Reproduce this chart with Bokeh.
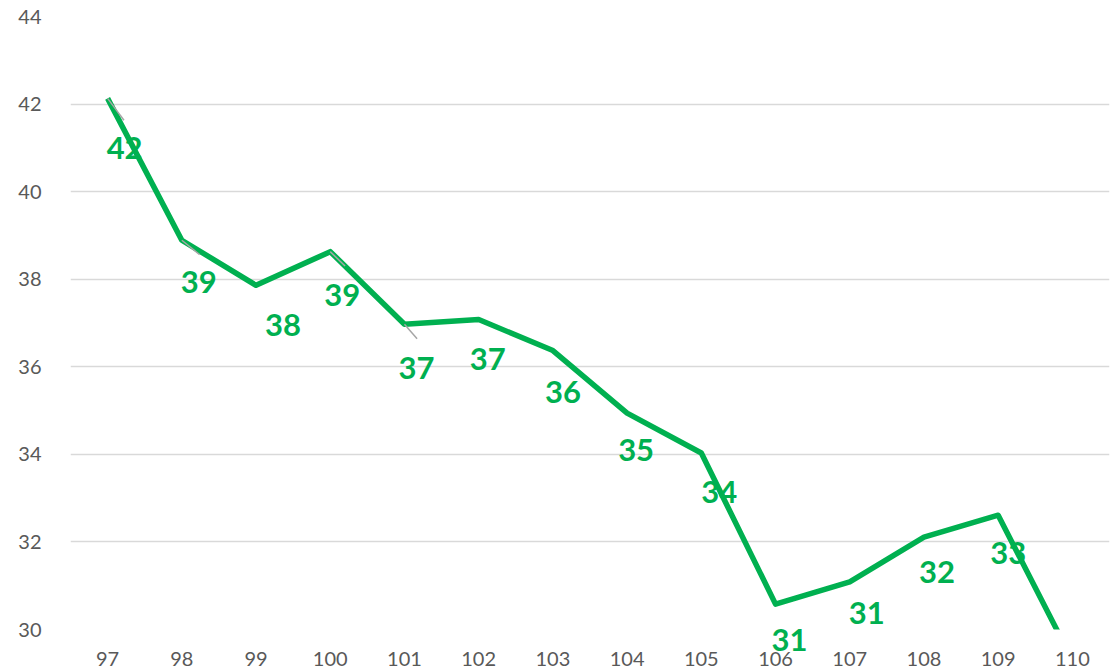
from bokeh.plotting import figure
from bokeh.models import ColumnDataSource, LabelSet, FixedTicker, Range1d
from bokeh.core.properties import value
from bokeh.embed import file_html
from bokeh.resources import INLINE

# ---- data ----
years = [97, 98, 99, 100, 101, 102, 103, 104, 105, 106, 107, 108, 109, 110]
values = [42.13, 38.89, 37.86, 38.63, 36.97, 37.08, 36.37, 34.94, 34.03, 30.58, 31.09, 32.11, 32.61, 29.3]
y_ticks = [30, 32, 34, 36, 38, 40, 42, 44]

# ---- styles (label offsets in screen px) ----
label_dx = [17, 17, 27, 12, 12, 9, 10, 9, 18, 14, 17, 13, 10]
label_dy = [-50, -42, -40, -43, -44, -40, -41, -37, -39, -36, -31, -35, -38]
outside_idx = [9]          # labels drawn outside the plot frame (not clipped)
leader_idx = [0, 1, 3, 4]
leader_dx = [0.22, 0.24, 0.2, 0.17]
leader_dy = [0.5, 0.33, 0.33, 0.33]

GREEN = "#00B050"
FONT = "Lato"

p = figure(width=1118, height=671, output_backend="svg", toolbar_location=None,
           x_range=Range1d(96.5, 110.5), y_range=Range1d(30, 44),
           min_border_left=70, min_border_right=9, min_border_top=16, min_border_bottom=42)
p.outline_line_color = None
p.background_fill_color = "white"
p.border_fill_color = "white"

p.xgrid.grid_line_color = None
p.ygrid.grid_line_color = "#D9D9D9"
p.ygrid.grid_line_width = 1.5

for ax in (p.xaxis[0], p.yaxis[0]):
    ax.axis_line_color = None
    ax.major_tick_line_color = None
    ax.minor_tick_line_color = None
    ax.major_label_text_font = FONT
    ax.major_label_text_font_size = "20px"
    ax.major_label_text_color = "#595959"

p.xaxis.ticker = FixedTicker(ticks=years)
p.xaxis.major_label_standoff = 16
p.yaxis.ticker = FixedTicker(ticks=y_ticks)
p.yaxis.major_label_standoff = 23

n = len(label_dx)
texts = [str(int(round(v))) for v in values[:n]]


def make_src(idx):
    return ColumnDataSource(dict(
        x=[years[i] for i in idx], y=[values[i] for i in idx],
        text=[texts[i] for i in idx],
        dx=[label_dx[i] for i in idx], dy=[label_dy[i] for i in idx],
        sdy=[-label_dy[i] for i in idx]))


inside_idx = [i for i in range(n) if i not in outside_idx]
p.add_layout(LabelSet(source=make_src(inside_idx), level="underlay",
                      x="x", y="y", text="text", x_offset="dx", y_offset="dy",
                      text_align="center", text_baseline="middle",
                      text_font=value(FONT), text_font_style="bold",
                      text_font_size="31px", text_color=GREEN))

p.line(years, values, line_color=GREEN, line_width=5.5, line_join="round")

# label that sits below the frame: a text glyph on the overlay level (unclipped)
out_r = p.text(x="x", y="y", text="text", source=make_src(outside_idx),
               x_offset="dx", y_offset="sdy",
               text_align="center", text_baseline="middle",
               text_font=value(FONT), text_font_style="bold",
               text_font_size="31px", text_color=GREEN)
out_r.level = "overlay"

lx0 = [years[i] for i in leader_idx]
ly0 = [values[i] for i in leader_idx]
lx1 = [years[i] + d for i, d in zip(leader_idx, leader_dx)]
ly1 = [values[i] - d for i, d in zip(leader_idx, leader_dy)]
p.segment(lx0, ly0, lx1, ly1, line_color="#A6A6A6", line_width=1.5)

open("out.html", "w").write(file_html(p, INLINE))
